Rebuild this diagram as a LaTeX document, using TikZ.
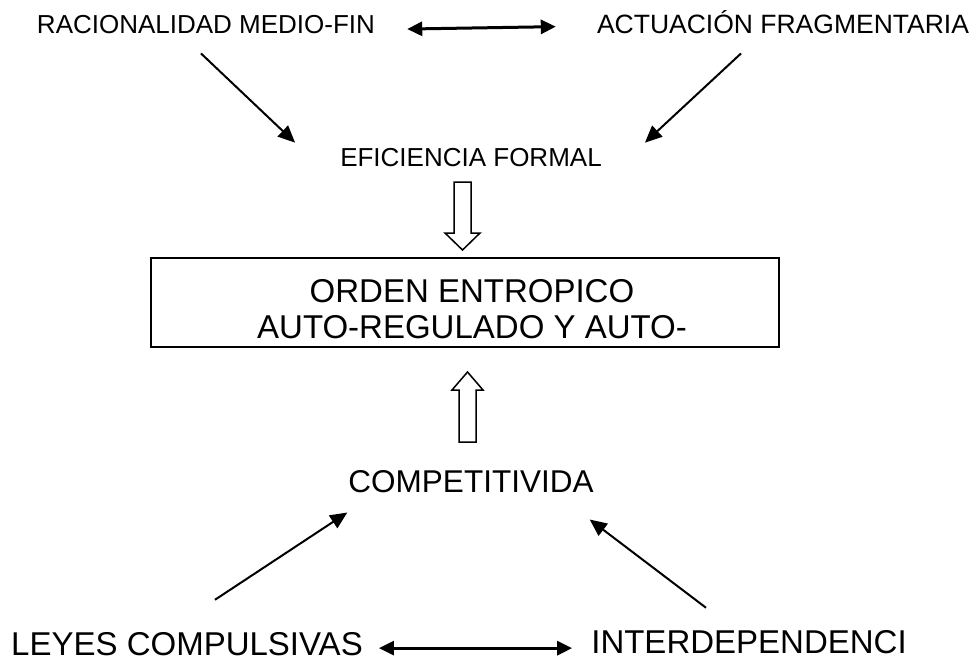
\documentclass[tikz,border=0pt]{standalone}
\usepackage{fontspec}
\setmainfont{Liberation Sans}
\usetikzlibrary{arrows.meta}

\tikzset{
    chico/.style={font=\fontsize{26}{30}\selectfont, inner sep=0pt, anchor=base},
    grande/.style={font=\fontsize{33}{36}\selectfont, inner sep=0pt, anchor=base},
    flecha/.style={line width=2pt, -{Triangle[length=17pt,width=15pt]}},
    doble/.style={line width=3pt, {Triangle[length=15pt,width=14pt]}-{Triangle[length=15pt,width=14pt]}},
    hueca/.style={line width=1.5pt, fill=white, line join=miter}
}

\begin{document}
\begin{tikzpicture}[x=1pt,y=-1pt]
    \useasboundingbox (0,0) rectangle (973,661);
    % arriba
    \node[chico] (rac) at (206,34) {RACIONALIDAD MEDIO-FIN};
    \node[chico, font=\fontsize{26.5}{30}\selectfont] (act) at (783,34) {ACTUACIÓN FRAGMENTARIA};
    \node[chico] (efi) at (471,166) {EFICIENCIA FORMAL};
    \draw[doble] ([shift={(32,4)}]rac.east) -- ([shift={(-41,4)}]act.west);
    \draw[flecha] ([shift={(-5,19)}]rac.south) -- ([shift={(-45,-5)}]efi.north west);
    \draw[flecha] ([shift={(-42,19)}]act.south) -- ([shift={(43,-5)}]efi.north east);
    % centro
    \node[draw, line width=2pt, minimum width=628pt, minimum height=89pt, inner sep=0pt] (orden) at (465,302.5) {};
    \node[grande, anchor=north, align=center] (ordentxt) at (472,279) {ORDEN ENTROPICO\\AUTO-REGULADO Y AUTO-};
    \draw[hueca] (454,182) --++ (17,0) --++ (0,51) --++ (9,0) --++ (-17.5,17) --++ (-17.5,-17) --++ (9,0) -- cycle;
    \draw[hueca] (459,442) --++ (17,0) --++ (0,-52) --++ (7,0) --++ (-15.5,-18) --++ (-15.5,18) --++ (7,0) -- cycle;
    % abajo
    \node[grande, font=\fontsize{31.5}{36}\selectfont] (comp) at (471,492) {COMPETITIVIDA};
    \node[grande] (ley) at (187,655) {LEYES COMPULSIVAS};
    \node[grande] (inter) at (749,653) {INTERDEPENDENCI};
    \draw[flecha] ([shift={(28,-32)}]ley.north) -- ([shift={(-1,20)}]comp.south west);
    \draw[flecha] ([shift={(-43,-22)}]inter.north) -- ([shift={(-4,27)}]comp.south east);
    \draw[doble] ([shift={(16,4.5)}]ley.east) -- ([shift={(-19,6.5)}]inter.west);
\end{tikzpicture}
\end{document}
